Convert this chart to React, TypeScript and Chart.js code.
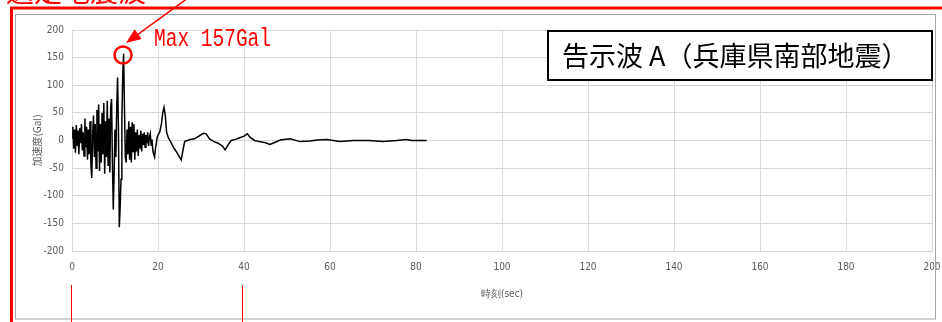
import React, { useEffect, useRef } from "react";
import { Chart, registerables } from "chart.js";

Chart.register(...registerables);

// Time (sec) of each sample
const timeSec: number[] = [
  0.0, 0.2, 0.4, 0.6, 0.8, 1.0, 1.2, 1.4, 1.6, 1.8,
  2.0, 2.2, 2.4, 2.6, 2.8, 3.0, 3.2, 3.4, 3.6, 3.8,
  4.0, 4.2, 4.4, 4.6, 4.8, 5.0, 5.2, 5.4, 5.6, 5.8,
  6.0, 6.2, 6.4, 6.6, 6.8, 7.0, 7.2, 7.4, 7.6, 7.8,
  8.0, 8.2, 8.4, 8.6, 8.8, 9.0, 9.2, 9.4, 9.6, 9.8,
  10.0, 10.2, 10.4, 10.6, 10.8, 11.0, 11.2, 11.4, 11.6, 11.8,
  12.0, 12.2, 12.4, 12.6, 12.8, 13.0, 13.2, 13.4, 13.6, 13.8,
  14.0, 14.2, 14.4, 14.6, 14.8, 15.0, 15.2, 15.4, 15.6, 15.8,
  16.0, 16.2, 16.4, 16.6, 16.8, 17.0, 17.2, 17.4, 17.6, 17.8,
  18.0, 18.2, 18.4, 18.6, 18.8, 19.0, 19.2, 19.4, 19.6, 19.8,
  20.0, 20.4, 20.8, 21.1, 21.4, 21.7, 22.0, 22.4, 22.8, 23.3,
  23.8, 24.4, 25.0, 25.4, 25.8, 26.2, 26.8, 27.5, 28.5, 29.5,
  30.5, 31.2, 32.0, 33.0, 34.0, 35.0, 35.6, 36.3, 37.0, 38.0,
  39.0, 40.0, 40.8, 41.5, 42.5, 43.5, 45.0, 46.0, 47.0, 48.4,
  50.7, 53.0, 55.4, 57.0, 59.2, 62.3, 65.4, 69.0, 72.4, 75.5,
  77.8, 79.0, 82.5,
];

// Acceleration (Gal) at each sample
const accelGal: number[] = [
  5, 25, -15, 20, -22, 28, -10, 18, -25, 22,
  -5, 30, -18, 15, -28, 40, -12, 25, -35, 20,
  -25, 35, -45, -68, 10, 45, -30, 30, -50, 55,
  -20, 65, -55, 30, -40, 50, -25, 68, -60, 35,
  -30, 72, -45, 40, -58, 60, 75, -40, -125, -60,
  20, -30, 60, 114, 20, -157, -120, -70, 40, 120,
  157, 60, -30, -40, 20, -25, 35, -35, 25, -40,
  33, -20, 30, -35, 15, -20, 20, -28, 10, -15,
  18, -20, 12, -8, 15, -12, 10, -5, 15, -10,
  5, 12, -8, 2, -18, -25, -30, -15, -5, 5,
  10, 15, 30, 50, 60, 45, 15, 5, 0, -8,
  -15, -22, -30, -35, -18, -2, 0, 2, 3, 8,
  13, 12, 3, -2, -5, -10, -17, -8, 0, 2,
  5, 8, 12, 5, 0, -2, -4, -7, -4, 1,
  3, -2, -1, 1, 2, -2, 0, 0, -2, 0,
  2, 0, 0,
];

const xTicks: number[] = [0, 20, 40, 60, 80, 100, 120, 140, 160, 180, 200];
const yTicks: number[] = [-200, -150, -100, -50, 0, 50, 100, 150, 200];

const titleText = "告示波 A（兵庫県南部地震）";
const noteText = "選定地震波";
const maxText = "Max 157Gal";
const xTitle = "時刻(sec)";
const yTitle = "加速度(Gal)";

const tickFont = "'Liberation Sans Narrow', 'DejaVu Sans Condensed', 'Liberation Sans', sans-serif";

const annotate = {
  id: "annotate",
  beforeDraw(chart: any) {
    const ctx = chart.ctx;
    ctx.save();
    ctx.fillStyle = "#ffffff";
    ctx.fillRect(0, 0, chart.width, chart.height);
    ctx.restore();
  },
  afterDraw(chart: any) {
    const ctx = chart.ctx;
    ctx.save();
    // chart area border (gray)
    ctx.strokeStyle = "#a6a6a6";
    ctx.lineWidth = 1;
    ctx.strokeRect(15.5, 14.5, 920, 304.5);

    // red frame
    ctx.strokeStyle = "#ff0000";
    ctx.lineWidth = 3;
    ctx.strokeRect(11.5, 8, 980, 400);

    // red note text at top, cut off
    ctx.fillStyle = "#ff0000";
    ctx.font = "28px 'Noto Sans CJK JP'";
    ctx.textAlign = "left";
    ctx.textBaseline = "alphabetic";
    ctx.fillText(noteText, 6, 2);

    // arrow
    const tipX = 126, tipY = 43;
    const fromX = 188, fromY = -2;
    const dx = fromX - tipX, dy = fromY - tipY;
    const len = Math.hypot(dx, dy);
    const ux = dx / len, uy = dy / len;
    ctx.strokeStyle = "#ff0000";
    ctx.lineWidth = 1.5;
    ctx.beginPath();
    ctx.moveTo(fromX, fromY);
    ctx.lineTo(tipX + ux * 10, tipY + uy * 10);
    ctx.stroke();
    const hl = 15, hw = 6;
    const bx = tipX + ux * hl, by = tipY + uy * hl;
    ctx.beginPath();
    ctx.moveTo(tipX, tipY);
    ctx.lineTo(bx - uy * hw, by + ux * hw);
    ctx.lineTo(bx + uy * hw, by - ux * hw);
    ctx.closePath();
    ctx.fill();

    // circle around max
    ctx.lineWidth = 2.5;
    ctx.beginPath();
    ctx.arc(123, 55, 8.5, 0, Math.PI * 2);
    ctx.stroke();

    // Max text
    ctx.save();
    ctx.translate(154, 46);
    ctx.scale(0.78, 1);
    ctx.font = "25px 'Liberation Mono'";
    ctx.fillText(maxText, 0, 0);
    ctx.restore();

    // red vertical lines at bottom
    ctx.lineWidth = 1;
    ctx.beginPath();
    ctx.moveTo(71.5, 285);
    ctx.lineTo(71.5, 322);
    ctx.moveTo(242.5, 285);
    ctx.lineTo(242.5, 322);
    ctx.stroke();

    // title box
    ctx.fillStyle = "#ffffff";
    ctx.fillRect(547, 30, 386, 50);
    ctx.strokeStyle = "#000000";
    ctx.lineWidth = 2;
    ctx.strokeRect(548, 31, 384, 49);
    ctx.fillStyle = "#000000";
    ctx.font = "27px 'Noto Sans CJK JP'";
    ctx.textBaseline = "middle";
    ctx.fillText(titleText, 562, 56, 356);
    ctx.restore();
  },
};

export default function App() {
  const ref = useRef<HTMLCanvasElement | null>(null);
  useEffect(() => {
    if (!ref.current) return;
    const data = timeSec.map((t, i) => ({ x: t, y: accelGal[i] }));
    const chart = new Chart(ref.current, {
      type: "line",
      data: {
        datasets: [
          {
            data,
            borderColor: "#000000",
            borderWidth: 1.5,
            pointRadius: 0,
            tension: 0,
            fill: false,
          },
        ],
      },
      options: {
        animation: false,
        responsive: false,
        maintainAspectRatio: false,
        layout: { padding: { left: 15, right: 0, top: 30, bottom: 0 } },
        plugins: {
          legend: { display: false },
          tooltip: { enabled: false },
        },
        scales: {
          x: {
            type: "linear",
            min: 0,
            max: 200,
            afterBuildTicks: (s: any) => {
              s.ticks = xTicks.map((v) => ({ value: v }));
            },
            afterFit: (s: any) => {
              s.height = 71;
              s.paddingRight = 10;
            },
            grid: { color: "#d9d9d9", drawTicks: false },
            border: { color: "#d9d9d9" },
            ticks: {
              padding: 10,
              color: "#595959",
              font: { family: tickFont, size: 10 },
              maxRotation: 0,
            },
            title: {
              display: true,
              text: xTitle,
              color: "#595959",
              font: { family: tickFont, size: 10 },
              padding: { top: 0, bottom: 22 },
            },
          },
          y: {
            min: -200,
            max: 200,
            afterBuildTicks: (s: any) => {
              s.ticks = yTicks.map((v) => ({ value: v }));
            },
            afterFit: (s: any) => {
              s.width = 57;
            },
            grid: { color: "#d9d9d9", drawTicks: false },
            border: { color: "#d9d9d9" },
            ticks: {
              padding: 8,
              color: "#595959",
              font: { family: tickFont, size: 10 },
            },
            title: {
              display: true,
              text: yTitle,
              color: "#595959",
              font: { family: "'Noto Sans CJK JP', sans-serif", size: 10 },
              padding: { top: 16, bottom: 0 },
            },
          },
        },
      },
      plugins: [annotate],
    });
    return () => chart.destroy();
  }, []);
  return (
    <div style={{ position: "fixed", left: 0, top: 0, width: 942, height: 322, background: "#fff" }}>
      <canvas ref={ref} width={942} height={322} style={{ width: 942, height: 322, display: "block" }} />
    </div>
  );
}
